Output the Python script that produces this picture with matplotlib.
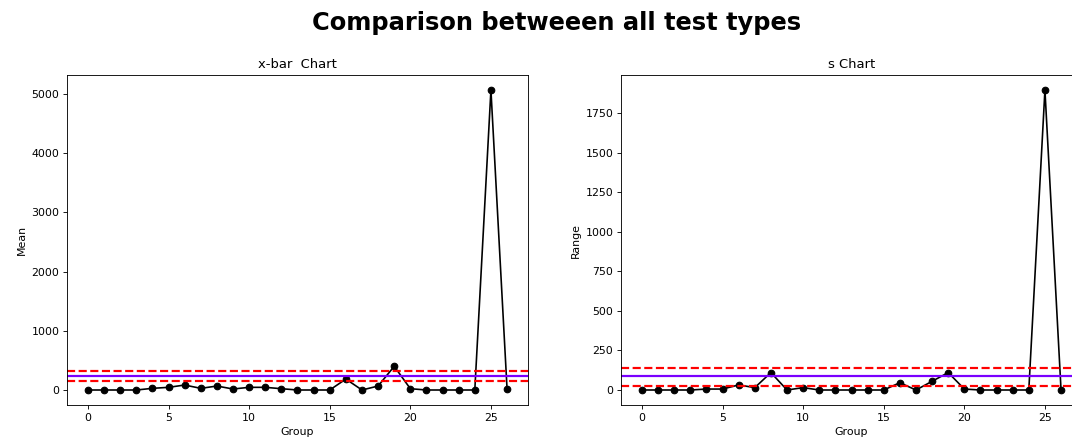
import matplotlib
matplotlib.use("Agg")
import matplotlib.pyplot as plt
import numpy as np

# group means and standard deviations
groups = list(range(27))
xbar = [0, 0, 0, 0, 28, 45, 84, 28, 67, 17, 45, 45, 22, 0, 0, 0, 185, 0, 67, 400,
        22, 0, 0, 0, 0, 5070, 22]
s = [0, 0, 0, 0, 6, 6, 32, 15, 110, 0, 15, 0, 0, 0, 0, 0, 46, 0, 55, 110,
     6, 0, 0, 0, 0, 1895, 0]

# control limits (center, upper, lower)
xbar_limits = [236, 320, 157]
s_limits = [88, 141, 27]

W, H = 1072, 441
DPI = 79
fig = plt.figure(figsize=(W / DPI, H / DPI), dpi=DPI)
fig.text(557 / W, 1 - 23 / H, "Comparison betweeen all test types", fontsize=22,
         fontweight="bold", ha="center", va="center")

ax1 = fig.add_axes([67 / W, (H - 405) / H, 461 / W, 330 / H])
ax2 = fig.add_axes([621 / W, (H - 405) / H, 461 / W, 330 / H])

def chart(ax, vals, lims, title, ylabel):
    ax.plot(groups, vals, linestyle="-", marker="o", color="black")
    ax.axhline(lims[0], color="#7a00ff", lw=2)
    ax.axhline(lims[1], color="red", linestyle="dashed", lw=2)
    ax.axhline(lims[2], color="red", linestyle="dashed", lw=2)
    ax.set_title(title)
    ax.set_xlabel("Group")
    ax.set_ylabel(ylabel)

chart(ax1, xbar, xbar_limits, "x-bar  Chart", "Mean")
chart(ax2, s, s_limits, "s Chart", "Range")

fig.savefig("out.png", dpi=DPI)
